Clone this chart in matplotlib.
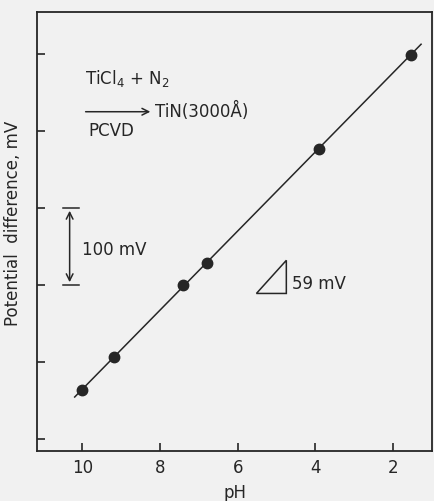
import numpy as np
import matplotlib
matplotlib.use("Agg")
import matplotlib.pyplot as plt
from matplotlib.patches import Polygon

# data
ph = [10.0, 9.2, 7.4, 6.8, 3.9, 1.55]
mv = [63, 107, 200, 229, 377, 499]
xticks = [10, 8, 6, 4, 2]
yticks = [0, 100, 200, 300, 400, 500]

ink = '#262626'
bg = '#f1f1f1'

plt.rcParams['font.family'] = ['DejaVu Sans']
plt.rcParams['font.size'] = 12

fig = plt.figure(figsize=(4.35, 5.02), dpi=100, facecolor=bg)
ax = fig.add_axes([0.086, 0.0996, 0.907, 0.8745])
ax.set_facecolor(bg)

# straight fit through the points
k, b = np.polyfit(ph, mv, 1)
xl = np.array([10.2, 1.28])
ax.plot(xl, k * xl + b, color=ink, lw=1.1)
ax.plot(ph, mv, 'o', color=ink, ms=7.5)

ax.set_xlim(11.16, 1.0)
ax.set_ylim(-15.6, 554.5)
ax.set_xticks(xticks)
ax.set_yticks(yticks)
ax.set_yticklabels([])
ax.tick_params(direction='in', length=6, width=1.2, color=ink, labelcolor=ink, pad=5)
for s in ax.spines.values():
    s.set_color(ink)
    s.set_linewidth(1.3)

ax.set_xlabel('pH', color=ink)
ax.xaxis.set_label_coords(0.5, -0.072)
ax.set_ylabel('Potential  difference, mV', color=ink, fontsize=12)
ax.yaxis.set_label_coords(-0.04, 0.52)

# reaction text
ax.text(9.94, 470, r'TiCl$_4$ + N$_2$', color=ink, va='center', ha='left')
ax.annotate('', xy=(8.18, 425), xytext=(9.99, 425),
            arrowprops=dict(arrowstyle='->', color=ink, lw=1.1))
ax.text(8.12, 427, 'TiN(3000Å)', color=ink, va='center', ha='left')
ax.text(9.86, 401, 'PCVD', color=ink, va='center', ha='left')

# 100 mV scale bar
ax.annotate('', xy=(10.33, 300), xytext=(10.33, 200),
            arrowprops=dict(arrowstyle='<->', color=ink, lw=1.1))
ax.plot([10.51, 10.10], [300, 300], color=ink, lw=1.1)
ax.plot([10.51, 10.10], [200, 200], color=ink, lw=1.1)
ax.text(10.02, 247, '100 mV', color=ink, va='center', ha='left')

# slope triangle
tri = Polygon([[5.52, 189], [4.75, 232], [4.75, 189]], closed=True,
              fill=False, edgecolor=ink, lw=1.1)
ax.add_patch(tri)
ax.text(4.6, 202, '59 mV', color=ink, va='center', ha='left')

fig.savefig('out.png', dpi=100, facecolor=bg)
